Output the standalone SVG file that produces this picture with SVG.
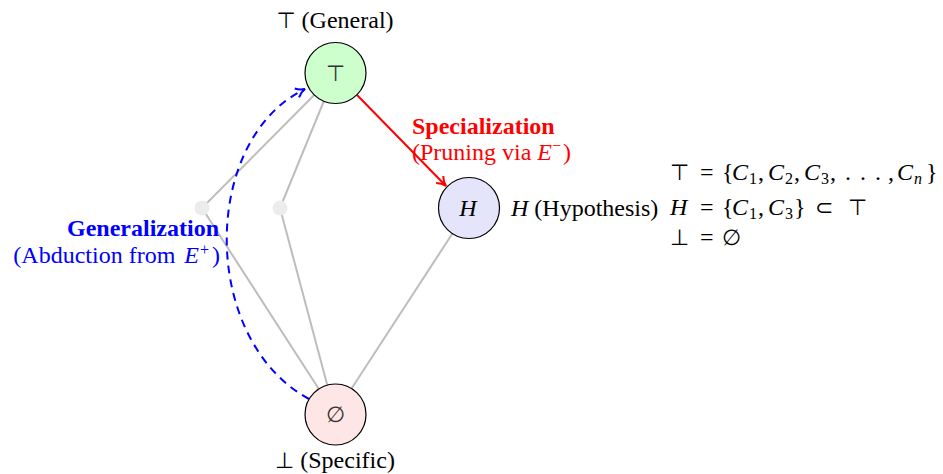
<svg xmlns="http://www.w3.org/2000/svg" width="943" height="474" viewBox="0 0 943 474">
<style>
text{font-family:"Liberation Serif","DejaVu Serif",serif;font-size:24px;fill:#000}
.it{font-style:italic}
.sym{font-family:"DejaVu Sans",sans-serif;font-size:22px}
.node{stroke:#000;stroke-width:1.2}
.edge{stroke:#bdbdbd;stroke-width:2;fill:none}
.sub{font-size:16px}
.sup{font-size:16px}
</style>
<defs>
<marker id="ar" viewBox="0 0 12 12" refX="10" refY="6" markerWidth="12" markerHeight="12" markerUnits="userSpaceOnUse" orient="auto">
<path d="M1,1 Q5,5 10,6 Q5,7 1,11" fill="none" stroke="#f00" stroke-width="2"/>
</marker>
<marker id="ab" viewBox="0 0 12 12" refX="10" refY="6" markerWidth="12" markerHeight="12" markerUnits="userSpaceOnUse" orient="auto">
<path d="M1,1 Q5,5 10,6 Q5,7 1,11" fill="none" stroke="#00f" stroke-width="2"/>
</marker>
</defs>
<g id="connectors">
<line class="edge" x1="335" y1="74" x2="202" y2="208"/>
<line class="edge" x1="335" y1="74" x2="280" y2="208"/>
<line class="edge" x1="202" y1="208" x2="335" y2="414"/>
<line class="edge" x1="280" y1="208" x2="335" y2="414"/>
<line class="edge" x1="469" y1="208" x2="335" y2="414"/>
<line x1="357" y1="95" x2="446" y2="186" stroke="#f00" stroke-width="2" marker-end="url(#ar)"/>
<path d="M309,399 C200,340 200,140 305,89" fill="none" stroke="#00f" stroke-width="2" stroke-dasharray="8,6" marker-end="url(#ab)"/>
</g>
<g id="dot1"><circle cx="202" cy="208" r="7.5" fill="#ececec"/></g>
<g id="dot2"><circle cx="280" cy="208" r="7.5" fill="#ececec"/></g>
<g id="top">
<circle class="node" cx="335.5" cy="73" r="30.5" fill="#ccffcc"/>
<text x="335.5" y="81" text-anchor="middle" class="sym" style="fill:#333">⊤</text>
<text x="335" y="28" text-anchor="middle"><tspan class="sym">⊤</tspan> (General)</text>
</g>
<g id="hyp">
<circle class="node" cx="469" cy="208" r="30.5" fill="#e4e4fb"/>
<text x="468" y="216" text-anchor="middle" class="it">H</text>
<text x="511" y="216"><tspan class="it">H</tspan> (Hypothesis)</text>
</g>
<g id="bottom">
<circle class="node" cx="335.5" cy="414.5" r="30.5" fill="#ffe6e6"/>
<text x="335.5" y="422" text-anchor="middle" class="sym" style="fill:#333">∅</text>
<text x="335" y="468" text-anchor="middle"><tspan class="sym">⊥</tspan> (Specific)</text>
</g>
<g id="spec-label">
<text x="412" y="134" font-weight="bold" style="fill:#f00">Specialization</text>
<text x="412" y="160" style="fill:#f00">(Pruning via <tspan class="it">E</tspan><tspan class="sup" dy="-9">−</tspan><tspan dy="9" dx="2">)</tspan></text>
</g>
<g id="gen-label">
<text x="219" y="236" text-anchor="end" font-weight="bold" style="fill:#00f">Generalization</text>
<text x="220" y="263" text-anchor="end" style="fill:#00f">(Abduction from <tspan class="it" dx="3">E</tspan><tspan class="sup" dy="-8" dx="1">+</tspan><tspan dy="8" dx="3">)</tspan></text>
</g>
<g id="equations">
<text y="180"><tspan class="sym" x="670">⊤</tspan><tspan x="700">=</tspan><tspan x="722">{</tspan><tspan class="it" x="732">C</tspan><tspan class="sub" x="749" dy="4">1</tspan><tspan x="758" dy="-4">,</tspan><tspan class="it" x="768">C</tspan><tspan class="sub" x="785" dy="4">2</tspan><tspan x="794" dy="-4">,</tspan><tspan class="it" x="804">C</tspan><tspan class="sub" x="821" dy="4">3</tspan><tspan x="830" dy="-4">,</tspan><tspan x="845">.</tspan><tspan x="860">.</tspan><tspan x="875">.</tspan><tspan x="888">,</tspan><tspan class="it" x="897">C</tspan><tspan class="sub it" x="914" dy="4">n</tspan><tspan x="926" dy="-4">}</tspan></text>
<text y="215"><tspan class="it" x="670">H</tspan><tspan x="700">=</tspan><tspan x="722">{</tspan><tspan class="it" x="732">C</tspan><tspan class="sub" x="749" dy="4">1</tspan><tspan x="758" dy="-4">,</tspan><tspan class="it" x="768">C</tspan><tspan class="sub" x="785" dy="4">3</tspan><tspan x="794" dy="-4">}</tspan><tspan class="sym" x="815">⊂</tspan><tspan class="sym" x="848">⊤</tspan></text>
<text y="245"><tspan class="sym" x="670">⊥</tspan><tspan x="700">=</tspan><tspan class="sym" x="722">∅</tspan></text>
</g>
</svg>
